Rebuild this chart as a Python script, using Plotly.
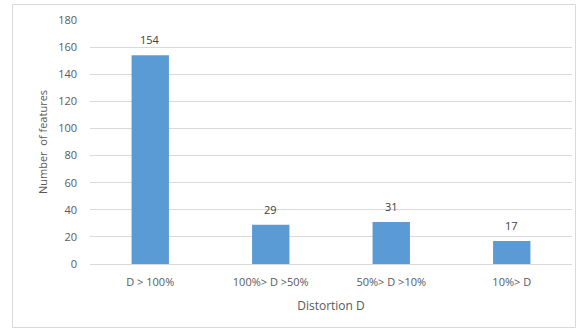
import plotly.graph_objects as go

categories = ["D > 100%", "100%> D >50%", "50%> D >10%", "10%> D"]
values = [154, 29, 31, 17]
y_ticks = [0, 20, 40, 60, 80, 100, 120, 140, 160, 180]

W, H = 576, 330
L, R, T, B = 90, 4, 20, 66
pw = W - L - R
ph = H - T - B

fig = go.Figure(go.Bar(
    x=categories, y=values,
    marker=dict(color="#5B9BD5", line=dict(width=0)),
    width=0.31,
    cliponaxis=False,
))

for c, v in zip(categories, values):
    fig.add_annotation(x=c, y=v, text=str(v), showarrow=False, yanchor="bottom",
                       yshift=6, font=dict(color="#404040", size=11))

def px2x(p):
    return (p - L) / pw

def py2y(p):
    return (H - B - p) / ph

fig.add_shape(type="rect", xref="paper", yref="paper",
              x0=px2x(12.5), x1=px2x(575.5), y0=py2y(327.5), y1=py2y(4.5),
              line=dict(color="#D9D9D9", width=1), fillcolor="rgba(0,0,0,0)", layer="below")

fig.update_layout(
    width=W, height=H,
    margin=dict(l=L, r=R, t=T, b=B),
    paper_bgcolor="white", plot_bgcolor="white",
    font=dict(family="Open Sans, Liberation Sans, sans-serif", color="#595959", size=11),
    showlegend=False,
    bargap=0.69,
    xaxis=dict(
        title=dict(text="Distortion D", font=dict(size=12, color="#595959"), standoff=13),
        showgrid=False, showline=False, zeroline=False, ticks="",
        ticklabelstandoff=10,
        tickfont=dict(size=11, color="#595959"),
    ),
    yaxis=dict(
        title=dict(text="Number  of features", font=dict(size=11, color="#595959"), standoff=8),
        range=[0, 180], tickvals=y_ticks,
        showgrid=True, gridcolor="#D9D9D9", gridwidth=1,
        zeroline=True, zerolinecolor="#D9D9D9", zerolinewidth=1,
        showline=False, ticks="", ticklen=0,
        ticklabelstandoff=12,
        tickfont=dict(size=11, color="#595959"),
    ),
)

fig.write_html("out.html")
